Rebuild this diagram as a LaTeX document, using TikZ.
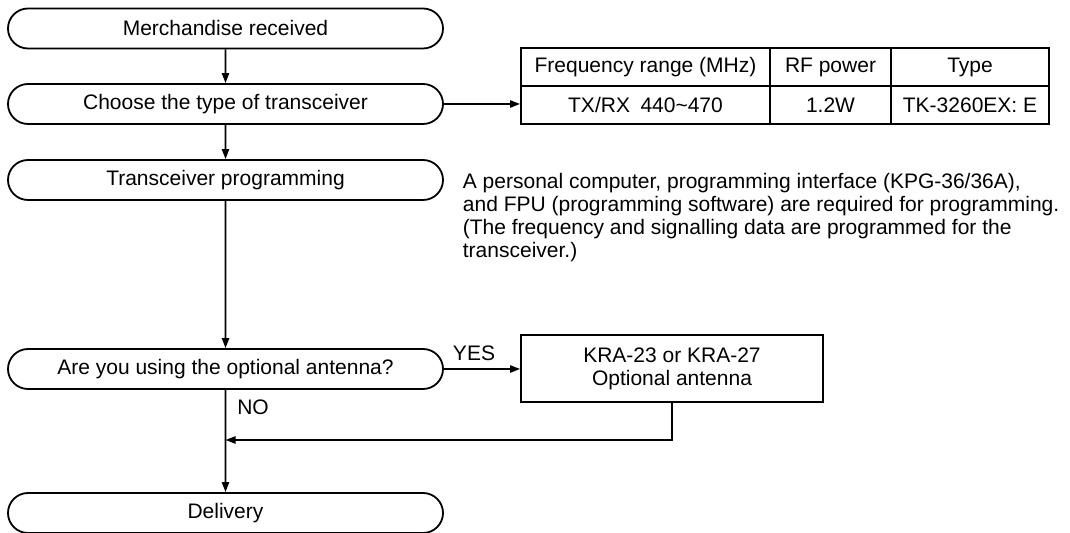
\documentclass[tikz,border=0pt]{standalone}
\usepackage{fontspec}
\setmainfont{Liberation Sans}
\usetikzlibrary{shapes.misc,arrows.meta}

\begin{document}
\begin{tikzpicture}[x=0.5pt,y=-0.5pt,font=\fontsize{10.5}{11.5}\selectfont,
    line width=0.9pt,>={Triangle[length=5pt,width=3.6pt]},
    term/.style={rounded rectangle,draw,minimum width=217.5pt,minimum height=20pt,inner sep=0pt},
    cell/.style={rectangle,draw,minimum height=19pt,inner sep=0pt}]
  \useasboundingbox (0,0) rectangle (1070,533);
  % flow
  \node (recv) at (225.5,28.5) [term] {Merchandise received};
  \node (choose) at (225.5,104) [term] {Choose the type of transceiver};
  \node (prog) at (225.5,180) [term] {Transceiver programming};
  \node (ask) at (225.5,369) [term] {Are you using the optional antenna?};
  \node (deliv) at (225.5,513) [term] {Delivery};
  % table of types
  \node (freqh) at (645.5,67) [cell,minimum width=124.5pt] {Frequency range (MHz)};
  \node (powh) at (830.5,67) [cell,minimum width=60.5pt] {RF power};
  \node (typeh) at (970,67) [cell,minimum width=79pt] {Type};
  \node (freqv) at (645.5,105) [cell,minimum width=124.5pt] {TX/RX\enspace 440\textasciitilde 470};
  \node (powv) at (830.5,105) [cell,minimum width=60.5pt] {1.2W};
  \node (typev) at (970,105) [cell,minimum width=79pt] {TK-3260EX: E};
  \node (note) at (462,172) [anchor=north west,align=left,inner sep=0pt]
    {A personal computer, programming interface (KPG-36/36A),\\
     and FPU (programming software) are required for programming.\\
     (The frequency and signalling data are programmed for the\\
     transceiver.)};
  \node (kra) at (672,368.5) [rectangle,draw,minimum width=151pt,minimum height=33.5pt,align=center]
    {KRA-23 or KRA-27\\Optional antenna};
  \node (yes) at (474,353) {YES};
  \node (no) at (253,407) {NO};
  \coordinate (join) at (225.5,440);
  % connectors
  \draw [->] (recv) -- (choose);
  \draw [->] (choose) -- (prog);
  \draw [->] (choose.east) -- (choose.east -| freqv.west);
  \draw [->] (prog) -- (ask);
  \draw [->] (ask.east) -- (ask.east -| kra.west);
  \draw [->] (ask) -- (deliv);
  \draw [->] (kra.south) |- (join);
\end{tikzpicture}
\end{document}
